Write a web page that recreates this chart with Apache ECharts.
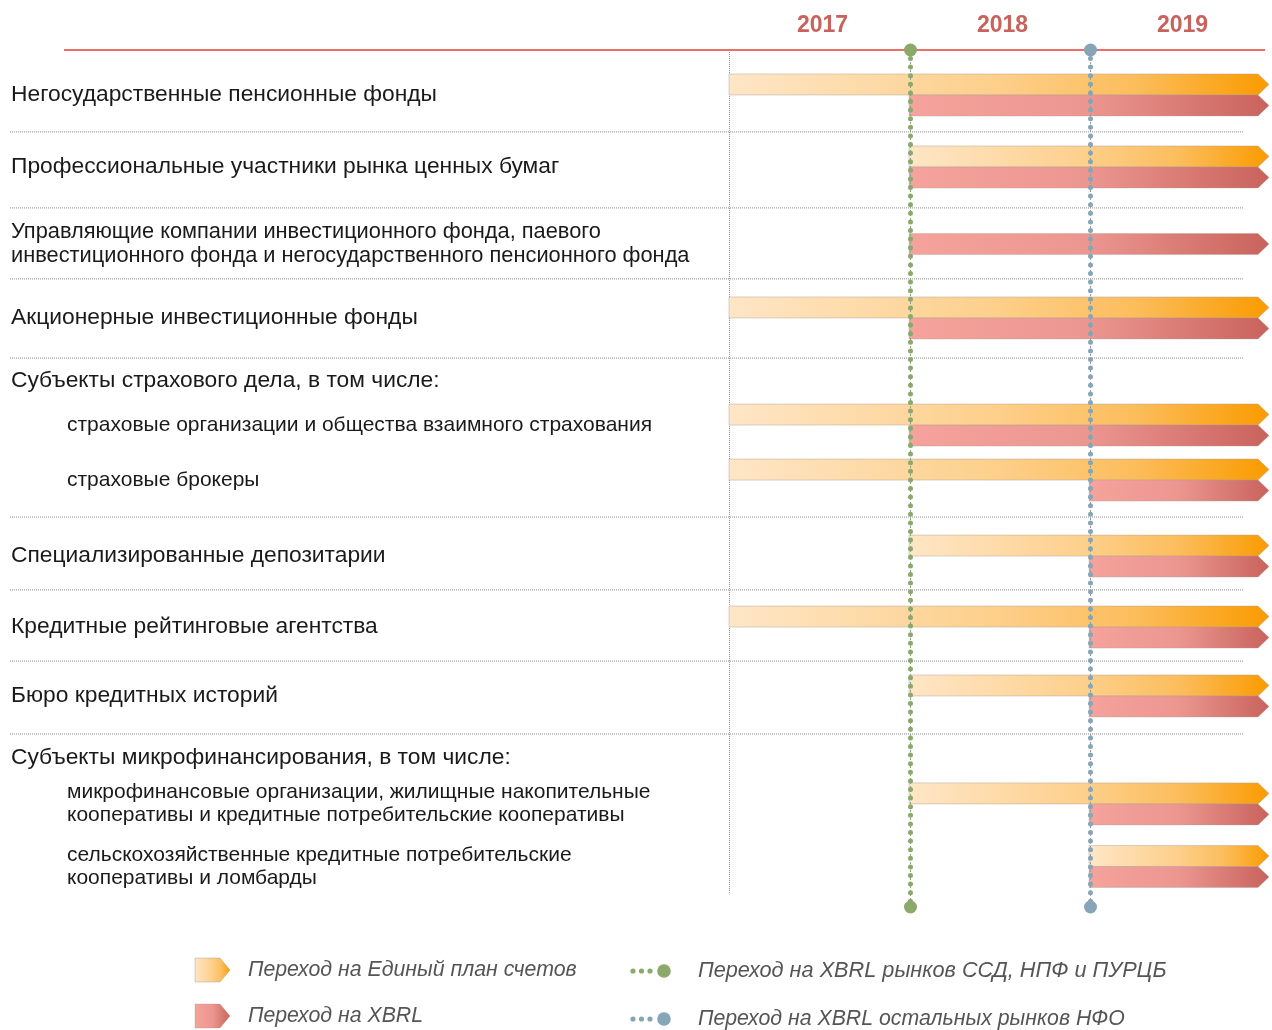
<!DOCTYPE html>
<html><head><meta charset="utf-8">
<script src="https://cdn.jsdelivr.net/npm/echarts@6/dist/echarts.min.js"></script>
<style>html,body{margin:0;padding:0;background:#fff}#c{width:1272px;height:1030px}</style>
</head><body><div id="c"></div><script>
// ---------- data ----------
const years = ['2017', '2018', '2019'];
const axisMin = 2017, axisMax = 2020;
const rowLabels = [
  'Негосударственные пенсионные фонды',
  'Профессиональные участники рынка ценных бумаг',
  'Управляющие компании инвестиционного фонда, паевого\nинвестиционного фонда и негосударственного пенсионного фонда',
  'Акционерные инвестиционные фонды',
  'Субъекты страхового дела, в том числе:',
  'страховые организации и общества взаимного страхования',
  'страховые брокеры',
  'Специализированные депозитарии',
  'Кредитные рейтинговые агентства',
  'Бюро кредитных историй',
  'Субъекты микрофинансирования, в том числе:',
  'микрофинансовые организации, жилищные накопительные\nкооперативы и кредитные потребительские кооперативы',
  'сельскохозяйственные кредитные потребительские\nкооперативы и ломбарды'
];
const rowLevel = [0, 0, 0, 0, 0, 1, 1, 0, 0, 0, 0, 1, 1];
// row centre on the lane scale (1 lane = one bar thickness)
const rowPos = [2.14, 5.57, 9.24, 12.76, 15.76, 17.86, 20.48, 24.10, 27.48, 30.76, 33.71, 35.90, 38.88];
// year in which each transition starts (null = none)
const planStart = [2017, 2018, null, 2017, null, 2017, 2017, 2018, 2017, 2018, null, 2018, 2019];
const xbrlStart = [2018, 2018, 2018, 2018, null, 2018, 2019, 2019, 2019, 2019, null, 2019, 2019];
const separatorPos = [3.90, 7.52, 10.90, 14.67, 22.24, 25.71, 29.10, 32.57];
const milestoneYear = [2018, 2019];
const barNames = ['Переход на Единый план счетов', 'Переход на XBRL'];
const milestoneNames = ['Переход на XBRL рынков ССД, НПФ и ПУРЦБ', 'Переход на XBRL остальных рынков НФО'];
const laneMax = 41;

// ---------- styles ----------
const FONT = '"Liberation Sans", Arial, sans-serif';
const G = echarts.graphic;
function orangeGrad() {
  return new G.LinearGradient(0, 0, 1, 0, [
    { offset: 0, color: '#fee6c6' }, { offset: 0.5, color: '#fdcf8a' },
    { offset: 0.75, color: '#fcbd5c' }, { offset: 1, color: '#fa9b00' }]);
}
function redGrad() {
  return new G.LinearGradient(0, 0, 1, 0, [
    { offset: 0, color: '#f5a39c' }, { offset: 0.5, color: '#ec9690' },
    { offset: 1, color: '#c9625c' }]);
}
const milestoneColors = ['#8aa96a', '#86a5b6'];

// ---------- build data ----------
const planData = [], xbrlData = [];
rowPos.forEach((p, i) => {
  const hasP = planStart[i] != null, hasX = xbrlStart[i] != null;
  if (hasP && hasX) {
    planData.push([planStart[i], axisMax, p - 1, p]);
    xbrlData.push([xbrlStart[i], axisMax, p, p + 1]);
  } else if (hasP) {
    planData.push([planStart[i], axisMax, p - 0.5, p + 0.5]);
  } else if (hasX) {
    xbrlData.push([xbrlStart[i], axisMax, p - 0.5, p + 0.5]);
  }
});

function barRenderer(gradFn, stroke) {
  return function (params, api) {
    const a = api.coord([api.value(0), api.value(2)]);
    const b = api.coord([api.value(1), api.value(3)]);
    const tip = 11, top = a[1], bot = b[1], mid = (top + bot) / 2;
    return {
      type: 'polygon',
      shape: { points: [[a[0], top], [b[0] - tip, top], [b[0], mid], [b[0] - tip, bot], [a[0], bot]] },
      style: { fill: gradFn(), stroke: stroke, lineWidth: 1 }
    };
  };
}

const option = {
  animation: false,
  backgroundColor: '#fff',
  grid: { left: 729, right: 3, top: 50, bottom: 119, containLabel: false },
  xAxis: [
    { type: 'value', min: axisMin, max: axisMax, show: false },
    { type: 'category', data: years, position: 'top', boundaryGap: true,
      axisLine: { show: false }, axisTick: { show: false }, splitLine: { show: false },
      axisLabel: { color: '#c8625c', fontSize: 23, fontWeight: 'bold', fontFamily: FONT, margin: 13, padding: [0, 0, 0, 7] } }
  ],
  yAxis: { type: 'value', inverse: true, min: 0, max: laneMax, show: false },
  graphic: [
    { type: 'line', shape: { x1: 64, y1: 50, x2: 1265, y2: 50 }, style: { stroke: '#ee6d66', lineWidth: 2 }, z: 1 },
    // legend
    { type: 'polygon', shape: { points: [[195, 958], [220, 958], [230, 970], [220, 982], [195, 982]] },
      style: { fill: orangeGrad(), stroke: 'rgba(160,150,140,0.4)', lineWidth: 1 } },
    { type: 'polygon', shape: { points: [[195, 1004], [220, 1004], [230, 1016], [220, 1028], [195, 1028]] },
      style: { fill: redGrad(), stroke: 'rgba(160,150,140,0.3)', lineWidth: 1 } },
    { type: 'text', x: 248, y: 970, style: { text: barNames[0], font: 'italic 21.3px ' + FONT, fill: '#555', verticalAlign: 'middle' } },
    { type: 'text', x: 248, y: 1016, style: { text: barNames[1], font: 'italic 21.3px ' + FONT, fill: '#555', verticalAlign: 'middle' } },
    ...[0, 1].flatMap(k => {
      const y = k === 0 ? 971 : 1019, c = milestoneColors[k];
      return [
        { type: 'circle', shape: { cx: 633, cy: y, r: 2.6 }, style: { fill: c } },
        { type: 'circle', shape: { cx: 641.5, cy: y, r: 2.6 }, style: { fill: c } },
        { type: 'circle', shape: { cx: 650, cy: y, r: 2.6 }, style: { fill: c } },
        { type: 'circle', shape: { cx: 664, cy: y, r: 6.8 }, style: { fill: c } },
        { type: 'text', x: 698, y: y, style: { text: milestoneNames[k], font: 'italic ' + (k === 0 ? 21.7 : 21.3) + 'px ' + FONT, fill: '#555', verticalAlign: 'middle' } }
      ];
    })
  ],
  series: [
    { // row separators
      type: 'custom', name: 'sep', silent: true, clip: false, z: 1,
      data: separatorPos.map(v => [axisMin, v]),
      renderItem: (params, api) => {
        const p = api.coord([axisMin, api.value(1)]);
        const cs = params.coordSys;
        return { type: 'line', shape: { x1: 10, y1: p[1], x2: cs.x + cs.width - 25, y2: p[1] },
          style: { stroke: '#8c8c8c', lineWidth: 1, lineDash: [1, 1] } };
      }
    },
    { // 2017 start line
      type: 'custom', name: 'start', silent: true, clip: false, z: 1,
      data: [[axisMin, 0.1, 40.2]],
      renderItem: (params, api) => {
        const a = api.coord([api.value(0), api.value(1)]), b = api.coord([api.value(0), api.value(2)]);
        return { type: 'line', shape: { x1: a[0] + 0.5, y1: a[1], x2: b[0] + 0.5, y2: b[1] },
          style: { stroke: '#888', lineWidth: 1, lineDash: [1, 1] } };
      }
    },
    { type: 'custom', name: barNames[0], silent: true, clip: false, z: 3, data: planData,
      renderItem: barRenderer(orangeGrad, 'rgba(170,160,150,0.45)') },
    { type: 'custom', name: barNames[1], silent: true, clip: false, z: 3, data: xbrlData,
      renderItem: barRenderer(redGrad, 'rgba(170,160,150,0.35)') },
    { // milestones
      type: 'custom', name: 'milestones', silent: true, clip: false, z: 5,
      data: milestoneYear.map((y, k) => [y, 0, 40.81, k]),
      renderItem: (params, api) => {
        const a = api.coord([api.value(0), api.value(1)]), b = api.coord([api.value(0), api.value(2)]);
        const c = milestoneColors[api.value(3)];
        const x = a[0] + 1.5;
        return { type: 'group', children: [
          { type: 'line', shape: { x1: x, y1: a[1], x2: x, y2: b[1] }, style: { stroke: '#9a9a9a', lineWidth: 1, lineDash: [2, 2] } },
          { type: 'line', shape: { x1: x, y1: a[1] + 8.5, x2: x, y2: b[1] - 4 }, style: { stroke: c, lineWidth: 5, lineDash: [0, 8.6], lineCap: 'round' } },
          { type: 'circle', shape: { cx: x, cy: a[1], r: 6.5 }, style: { fill: c } },
          { type: 'circle', shape: { cx: x, cy: b[1], r: 6.5 }, style: { fill: c } }
        ] };
      }
    },
    { // row labels
      type: 'custom', name: 'labels', silent: true, clip: false, z: 4,
      data: rowPos.map((p, i) => [axisMin, p, i]),
      renderItem: (params, api) => {
        const i = api.value(2);
        const p = api.coord([axisMin, api.value(1)]);
        const sub = rowLevel[i] === 1;
        const multi = rowLabels[i].indexOf('\n') >= 0;
        const size = sub ? 21 : (multi ? 21.8 : 22.8);
        return { type: 'text', x: sub ? 67 : 11, y: p[1],
          style: { text: rowLabels[i], fill: '#1a1a1a', verticalAlign: 'middle', align: 'left',
            font: size + 'px ' + FONT, lineHeight: sub ? 23.5 : 24 } };
      }
    }
  ]
};
const chart = echarts.init(document.getElementById('c'), null, { renderer: 'canvas' });
chart.setOption(option);
</script></body></html>
